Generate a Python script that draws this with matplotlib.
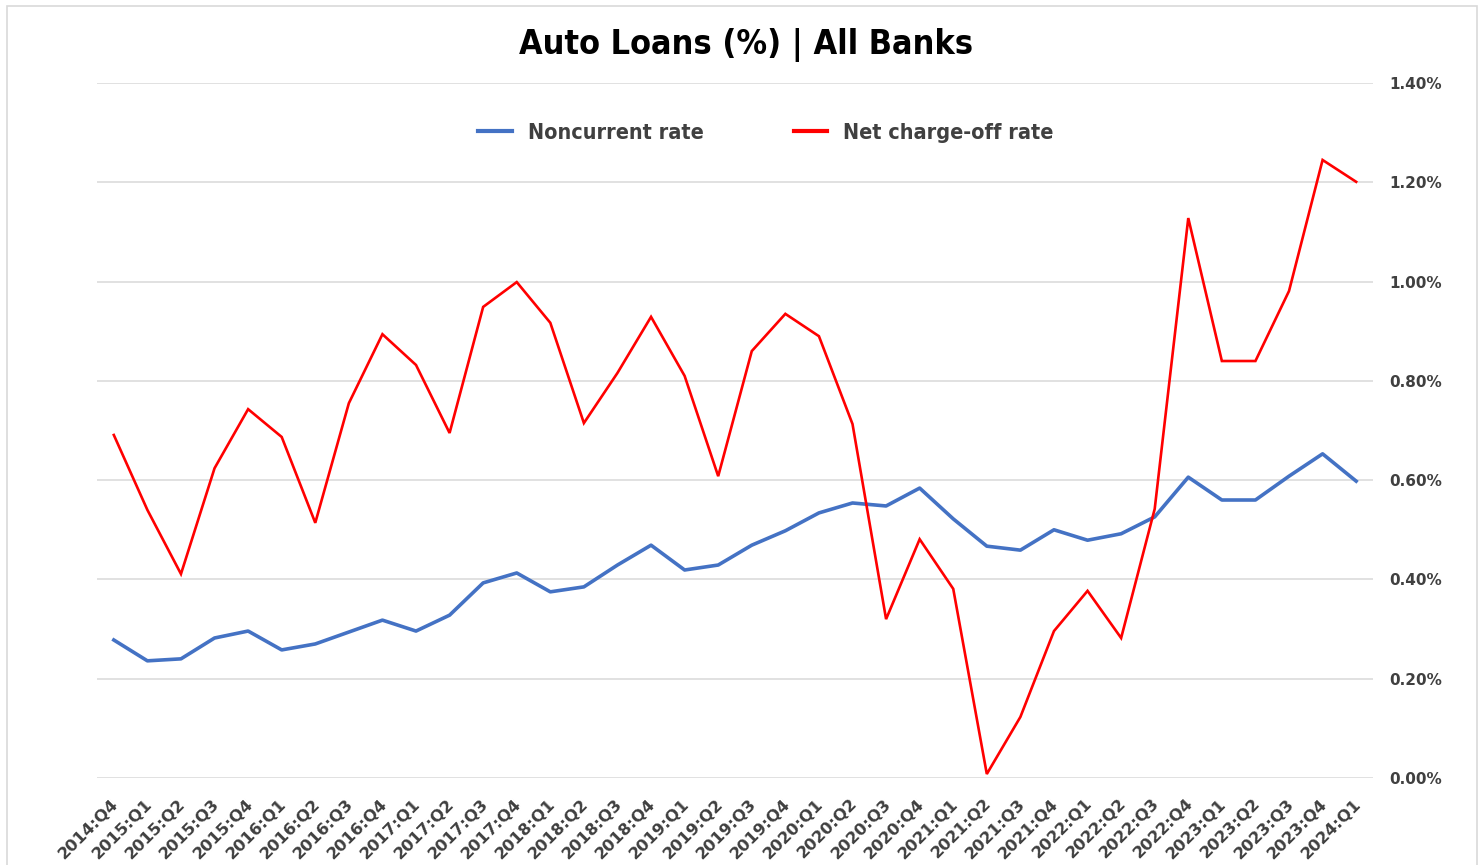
import matplotlib
matplotlib.use("Agg")
import matplotlib.pyplot as plt
from matplotlib.patches import Rectangle
from matplotlib.ticker import FuncFormatter
import matplotlib.transforms as mtransforms

# quarters shown on the x axis
quarters = ['2014:Q4',
            '2015:Q1', '2015:Q2', '2015:Q3', '2015:Q4',
            '2016:Q1', '2016:Q2', '2016:Q3', '2016:Q4',
            '2017:Q1', '2017:Q2', '2017:Q3', '2017:Q4',
            '2018:Q1', '2018:Q2', '2018:Q3', '2018:Q4',
            '2019:Q1', '2019:Q2', '2019:Q3', '2019:Q4',
            '2020:Q1', '2020:Q2', '2020:Q3', '2020:Q4',
            '2021:Q1', '2021:Q2', '2021:Q3', '2021:Q4',
            '2022:Q1', '2022:Q2', '2022:Q3', '2022:Q4',
            '2023:Q1', '2023:Q2', '2023:Q3', '2023:Q4',
            '2024:Q1']

# noncurrent rate (%)
noncurrent = [0.278, 0.236, 0.240, 0.282, 0.296, 0.258, 0.270, 0.294, 0.318,
              0.296, 0.328, 0.393, 0.413, 0.375, 0.385, 0.429, 0.469, 0.419,
              0.429, 0.469, 0.498, 0.534, 0.554, 0.548, 0.584, 0.522, 0.467,
              0.459, 0.500, 0.479, 0.492, 0.526, 0.606, 0.560, 0.560, 0.608,
              0.653, 0.598]

# net charge-off rate (%)
charge_off = [0.691, 0.540, 0.411, 0.624, 0.743, 0.687, 0.514, 0.755, 0.894,
              0.832, 0.695, 0.949, 0.999, 0.917, 0.715, 0.816, 0.929, 0.810,
              0.608, 0.860, 0.935, 0.890, 0.713, 0.320, 0.481, 0.381, 0.008,
              0.123, 0.296, 0.377, 0.282, 0.542, 1.128, 0.840, 0.840, 0.981,
              1.245, 1.201]

y_ticks = [0.0, 0.2, 0.4, 0.6, 0.8, 1.0, 1.2, 1.4]

text_grey = '#404040'

fig = plt.figure(figsize=(14.79, 8.65), dpi=100)
ax = fig.add_axes([0.0656, 0.1006, 0.8627, 0.8034])

# light frame around the whole chart
fig.patches.append(Rectangle((7 / 1479, -0.01), 1470 / 1479, 0.01 + (865 - 6) / 865,
                             transform=fig.transFigure, fill=False,
                             edgecolor='#d9d9d9', linewidth=1.2))

x = range(len(quarters))
ax.plot(x, noncurrent, color='#4472C4', linewidth=2.6, label='Noncurrent rate',
        solid_joinstyle='round')
ax.plot(x, charge_off, color='#FF0000', linewidth=1.9, label='Net charge-off rate',
        solid_joinstyle='miter')

ax.set_xlim(-0.5, len(quarters) - 0.5)
ax.set_ylim(0, 1.4)
ax.set_yticks(y_ticks)
ax.yaxis.set_major_formatter(FuncFormatter(lambda v, p: f'{v:.2f}%'))
ax.yaxis.tick_right()
ax.grid(axis='y', color='#d9d9d9', linewidth=1.1)
ax.set_axisbelow(True)
for s in ax.spines.values():
    s.set_visible(False)
ax.tick_params(axis='y', length=0, pad=12, labelsize=11, labelcolor=text_grey)
for lab in ax.get_yticklabels():
    lab.set_fontweight('bold')

ax.set_xticks(list(x))
ax.set_xticklabels(quarters, rotation=45, ha='right', va='top',
                   rotation_mode='anchor', fontsize=11.8, fontweight='bold',
                   color=text_grey)
ax.tick_params(axis='x', length=0, pad=0)
offset = mtransforms.ScaledTranslation(-3 / 100, -18 / 100, fig.dpi_scale_trans)
for lab in ax.get_xticklabels():
    lab.set_transform(lab.get_transform() + offset)

fig.text(0.5045, 0.948, 'Auto Loans (%) | All Banks', ha='center', va='center',
         fontsize=24.5, fontweight='bold', fontstretch='condensed', color='black')

leg = ax.legend(loc='center', bbox_to_anchor=(766 / 1479, 1 - 133 / 865),
                bbox_transform=fig.transFigure, ncol=2, frameon=False,
                handlelength=1.55, handletextpad=0.75, columnspacing=4.2,
                borderpad=0, prop={'size': 15.5, 'weight': 'bold', 'stretch': 'condensed'})
for t in leg.get_texts():
    t.set_color(text_grey)
for h in leg.get_lines():
    h.set_linewidth(3)

fig.savefig('out.png', dpi=100)
